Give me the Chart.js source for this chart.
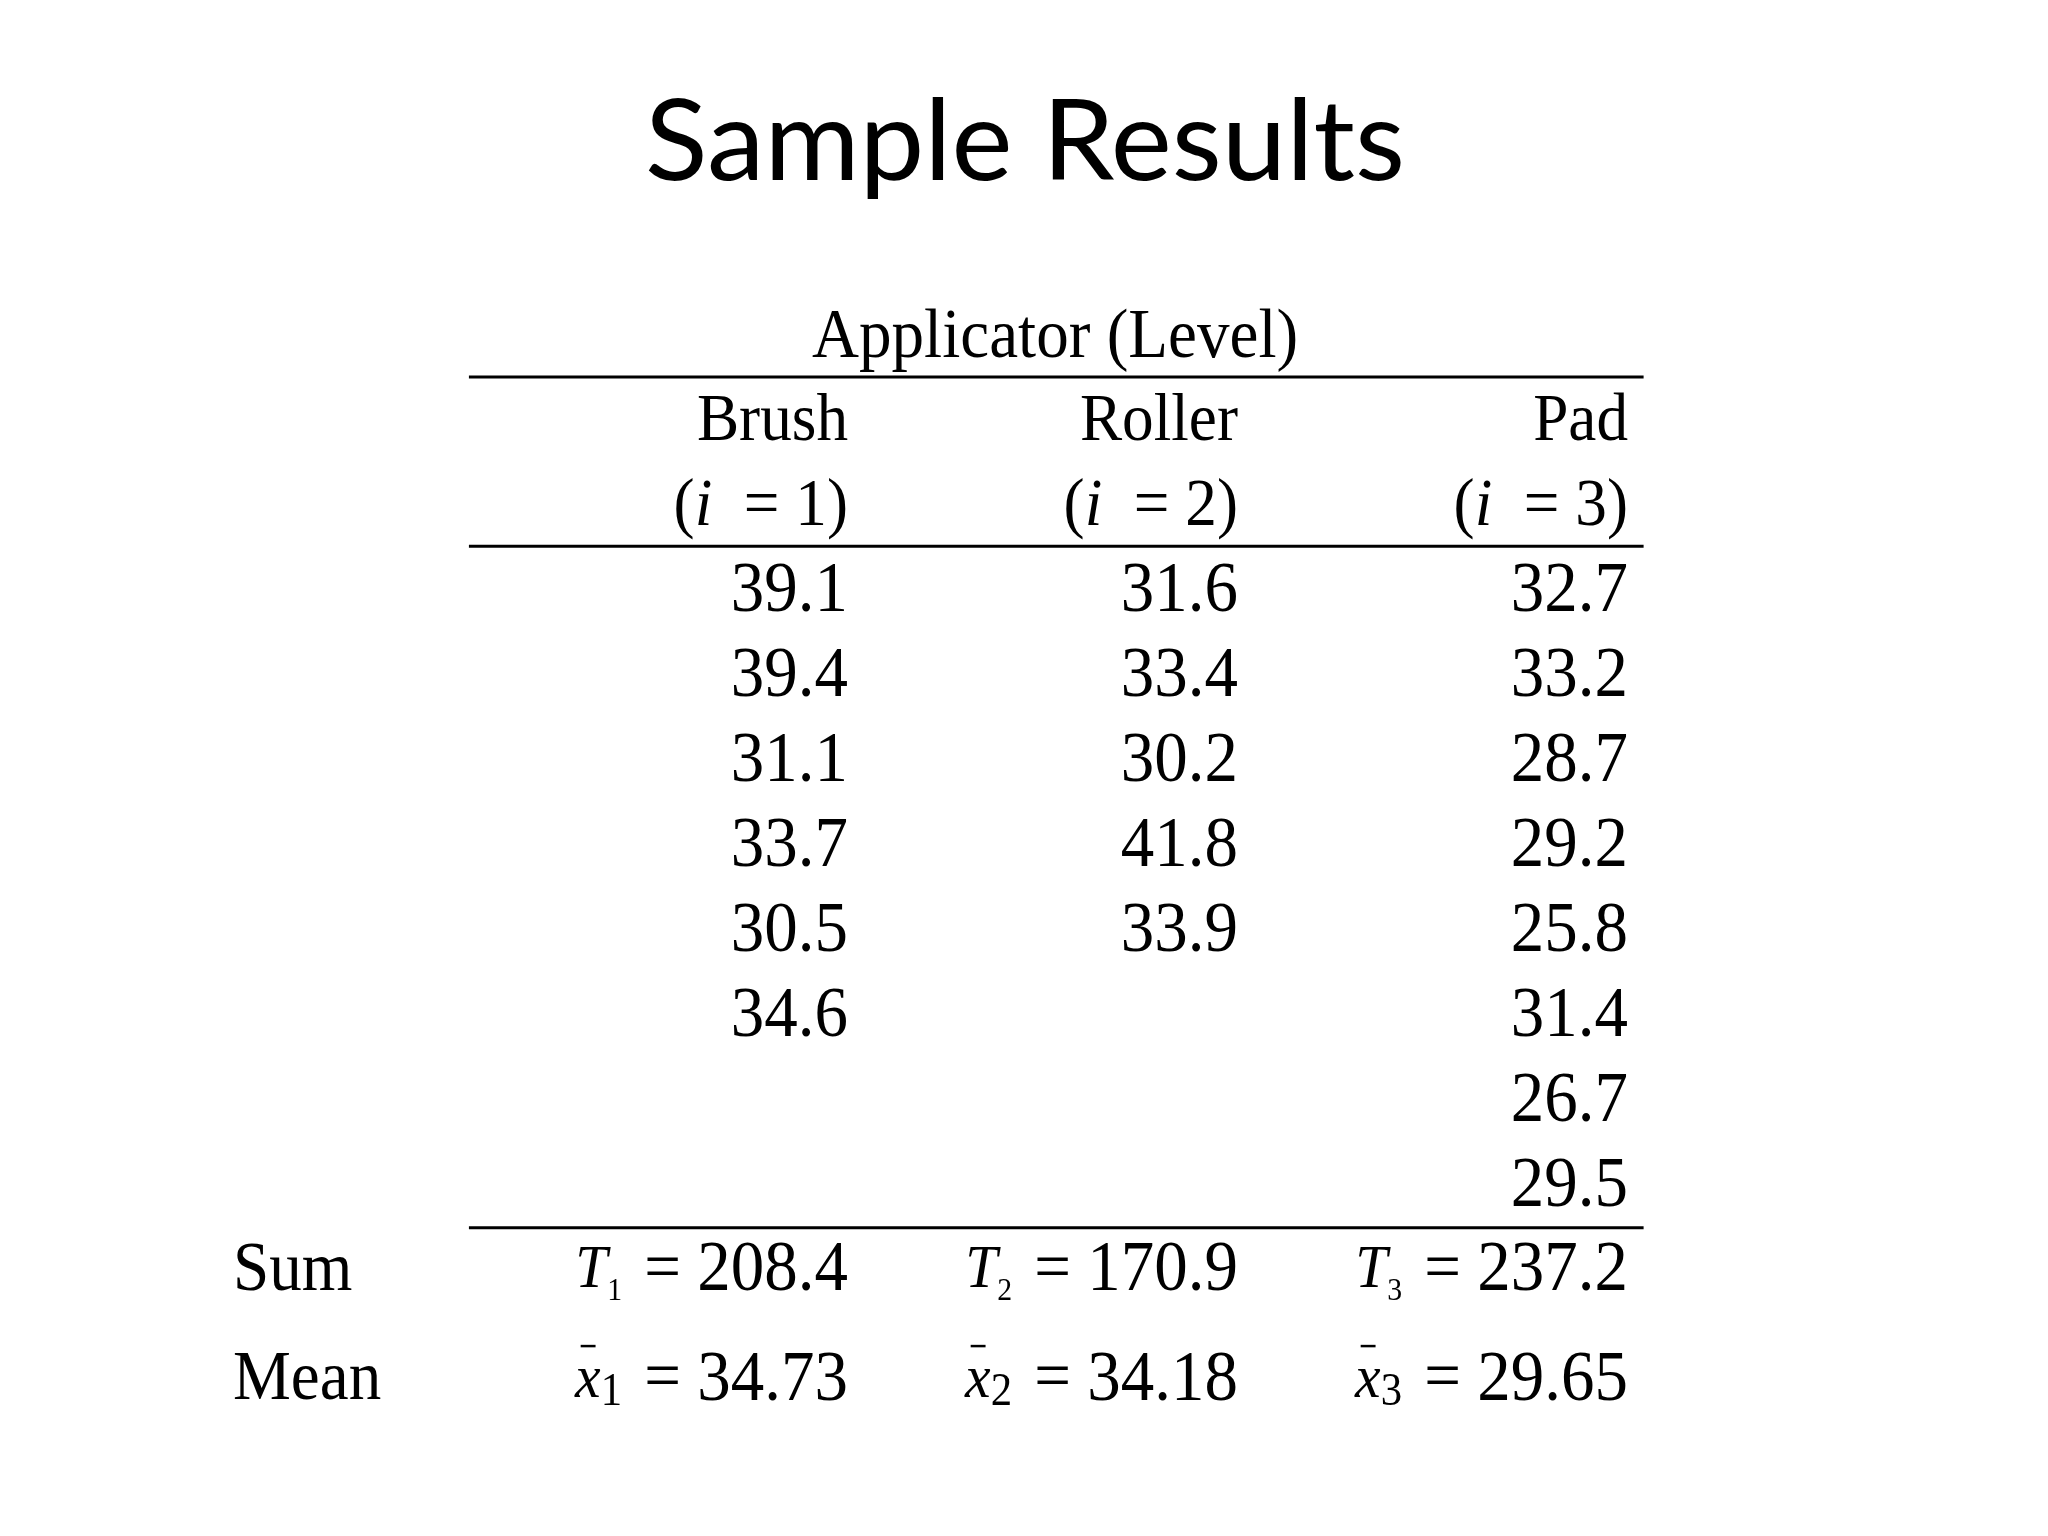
<!DOCTYPE html>
<html><head><meta charset="utf-8">
<script src="https://cdn.jsdelivr.net/npm/chart.js@4"></script>
<style>html,body{margin:0;padding:0;background:#fff}canvas{display:block}</style>
</head><body>
<canvas id="c" width="2048" height="1536"></canvas>
<script>
const title = "Sample Results";
const groupHeader = "Applicator (Level)";
const categories = ["Brush", "Roller", "Pad"];
const levels = [1, 2, 3];
const brush = [39.1, 39.4, 31.1, 33.7, 30.5, 34.6];
const roller = [31.6, 33.4, 30.2, 41.8, 33.9];
const pad = [32.7, 33.2, 28.7, 29.2, 25.8, 31.4, 26.7, 29.5];
const sums = ["208.4", "170.9", "237.2"];
const means = ["34.73", "34.18", "29.65"];
const rowLabels = ["Sum", "Mean"];

const series = [brush, roller, pad];
const points = [];
series.forEach((arr, ci) => arr.forEach((v, ri) => points.push({x: ci, y: ri, v})));

const SX = 0.93;
const SERIF = "'Liberation Serif', 'DejaVu Serif', serif";
function f(size, italic){ return (italic ? "italic " : "") + size + "px " + SERIF; }

function drawPieces(ctx, pieces, x, y, align){
  let total = 0;
  pieces.forEach(p => { ctx.font = p.font; p.w = ctx.measureText(p.t).width * SX + (p.gap||0); total += p.w; });
  let cx = align === "right" ? x - total : (align === "center" ? x - total/2 : x);
  pieces.forEach(p => {
    ctx.save();
    ctx.font = p.font;
    ctx.textBaseline = "middle";
    ctx.textAlign = "left";
    ctx.translate(cx + (p.gap||0), y + (p.dy||0));
    ctx.scale(SX, 1);
    ctx.fillText(p.t, 0, 0);
    if (p.bar) { ctx.fillRect(6, -36, 16, 2.5); }
    ctx.restore();
    cx += p.w;
  });
}

const tablePlugin = {
  id: "tablePlugin",
  afterDatasetsDraw(chart){
    const ctx = chart.ctx, xs = chart.scales.x, ys = chart.scales.y;
    const X = v => xs.getPixelForValue(v), Y = v => ys.getPixelForValue(v);
    ctx.save();
    ctx.fillStyle = "#000"; ctx.strokeStyle = "#000";
    ctx.save();
    ctx.font = "112px Lato, 'Open Sans', sans-serif";
    ctx.textBaseline = "middle";
    const tw = ctx.measureText(title).width;
    ctx.translate(X(0.454), Y(-5.27));
    ctx.scale(760 / tw, 1);
    ctx.textAlign = "center";
    ctx.fillText(title, 0, 0);
    ctx.restore();
    drawPieces(ctx, [{t: groupHeader, font: f(70)}], X(0.531), Y(-2.98), "center");
    ctx.lineWidth = 3;
    [-2.53, -0.54, 7.48].forEach(r => {
      ctx.beginPath(); ctx.moveTo(X(-0.972), Y(r)); ctx.lineTo(X(2.04), Y(r)); ctx.stroke();
    });
    categories.forEach((c, i) => {
      drawPieces(ctx, [{t: c, font: f(68)}], X(i), Y(-2.0), "right");
      drawPieces(ctx, [{t: "(", font: f(68)}, {t: "i", font: f(68, true)}, {t: "  = " + levels[i] + ")", font: f(68)}], X(i), Y(-1.0), "right");
    });
    const meta = chart.getDatasetMeta(0);
    meta.data.forEach((el, k) => {
      drawPieces(ctx, [{t: points[k].v.toFixed(1), font: f(72)}], el.x, el.y, "right");
    });
    drawPieces(ctx, [{t: rowLabels[0], font: f(70)}], X(-1.577), Y(7.99), "left");
    drawPieces(ctx, [{t: rowLabels[1], font: f(70)}], X(-1.577), Y(9.28), "left");
    sums.forEach((s, i) => {
      drawPieces(ctx, [{t: "T", font: f(62, true)}, {t: String(i+1), font: f(32), dy: 20}, {t: " = ", font: f(70), gap: 6}, {t: s, font: f(72)}], X(i), Y(7.99), "right");
    });
    means.forEach((m, i) => {
      drawPieces(ctx, [{t: "x", font: f(62, true), bar: true}, {t: String(i+1), font: f(46), dy: 12}, {t: " = ", font: f(70), gap: 6}, {t: m, font: f(72)}], X(i), Y(9.28), "right");
    });
    ctx.restore();
  }
};

new Chart(document.getElementById("c"), {
  type: "scatter",
  data: { datasets: [{ data: points.map(p => ({x: p.x, y: p.y})), pointRadius: 0, pointHoverRadius: 0, showLine: false }] },
  options: {
    responsive: false, animation: false, devicePixelRatio: 1,
    layout: { padding: 0 },
    plugins: { legend: {display: false}, tooltip: {enabled: false}, title: {display: false} },
    scales: {
      x: { type: "linear", display: false, min: -848/390, max: -848/390 + 2048/390 },
      y: { type: "linear", display: false, reverse: true, min: -6.965, max: -6.965 + 1536/85 }
    }
  },
  plugins: [tablePlugin]
});
</script>
</body></html>
